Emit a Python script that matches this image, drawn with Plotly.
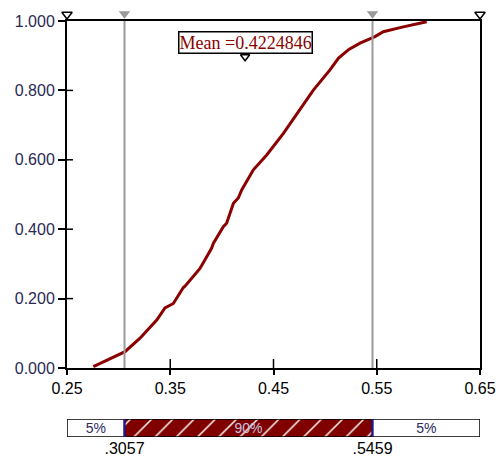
import plotly.graph_objects as go

# Cumulative curve values
cdf_x = [0.2755, 0.2852, 0.2981, 0.3062, 0.3207, 0.3369, 0.3449, 0.3530, 0.3627, 0.3643,
         0.3788, 0.3900, 0.3917, 0.4014, 0.4046, 0.4112, 0.4159, 0.4192, 0.4305, 0.4434,
         0.4596, 0.4757, 0.4886, 0.5047, 0.5130, 0.5230, 0.5338, 0.5483, 0.5563, 0.5757,
         0.5984]
cdf_y = [0.004, 0.018, 0.037, 0.047, 0.086, 0.138, 0.173, 0.186, 0.232, 0.236,
         0.287, 0.345, 0.359, 0.407, 0.417, 0.475, 0.490, 0.513, 0.571, 0.614,
         0.676, 0.744, 0.801, 0.859, 0.893, 0.918, 0.936, 0.955, 0.969, 0.983,
         0.998]

mean_value = 0.4224846
pct_edges = [0.25, 0.3057, 0.5459, 0.65]
pct_labels = ["5%", "90%", "5%"]
edge_labels = [".3057", ".5459"]

x_ticks = [0.25, 0.35, 0.45, 0.55, 0.65]
x_ticktext = ["0.25", "0.35", "0.45", "0.55", "0.65"]
y_ticks = [0.0, 0.2, 0.4, 0.6, 0.8, 1.0]
y_ticktext = ["0.000", "0.200", "0.400", "0.600", "0.800", "1.000"]

DARKRED = "#8b0000"
GREY = "#9a9a9a"

fig = go.Figure()

# Curve
fig.add_trace(go.Scatter(x=cdf_x, y=cdf_y, mode="lines",
                         line=dict(color=DARKRED, width=3), hoverinfo="skip",
                         xaxis="x", yaxis="y"))

# Grey percentile lines
for v in pct_edges[1:3]:
    fig.add_shape(type="line", xref="x", yref="y", x0=v, x1=v, y0=0, y1=1,
                  line=dict(color=GREY, width=2), layer="above")

# Triangle markers in a thin strip above the frame
fig.add_trace(go.Scatter(x=pct_edges[1:3], y=[0.55, 0.55], mode="markers",
                         xaxis="x", yaxis="y3", cliponaxis=False,
                         marker=dict(symbol="triangle-down", size=10, color=GREY,
                                     line=dict(width=0)),
                         hoverinfo="skip"))
fig.add_trace(go.Scatter(x=[pct_edges[0], pct_edges[-1]], y=[0.5, 0.5], mode="markers",
                         xaxis="x", yaxis="y3", cliponaxis=False,
                         marker=dict(symbol="triangle-down", size=9, color="white",
                                     line=dict(color="black", width=1.5)),
                         hoverinfo="skip"))

# Mean marker
fig.add_trace(go.Scatter(x=[mean_value], y=[0.897], mode="markers",
                         marker=dict(symbol="triangle-down", size=8, color="white",
                                     line=dict(color="black", width=1.5)),
                         cliponaxis=False, hoverinfo="skip"))

# Inner tick marks (ticks cross the axis lines)
for t in x_ticks[1:-1]:
    fig.add_shape(type="line", xref="x", yref="y", x0=t, x1=t, ysizemode="pixel",
                  yanchor=0, y0=0, y1=9, line=dict(color="black", width=1.5))
for t in y_ticks[1:-1]:
    fig.add_shape(type="line", xref="x", yref="y", y0=t, y1=t, xsizemode="pixel",
                  xanchor=0.25, x0=0, x1=6, line=dict(color="black", width=1.5))

# Mean label
fig.add_annotation(x=mean_value, y=0.938, xref="x", yref="y",
                   text="Mean =" + str(mean_value), showarrow=False,
                   font=dict(family="Liberation Serif", size=18, color=DARKRED),
                   bgcolor="white", bordercolor="black", borderwidth=1.5, borderpad=0)

# Bottom percentile bar
widths = [pct_edges[i + 1] - pct_edges[i] for i in range(3)]
bar_colors = ["white", "#800000", "white"]
fig.add_trace(go.Bar(x=widths, base=pct_edges[:3], y=[0, 0, 0], orientation="h",
                     width=1, xaxis="x2", yaxis="y2",
                     marker=dict(color=bar_colors,
                                 line=dict(color="black", width=1.5),
                                 pattern=dict(shape=["", "/", ""],
                                              fgcolor=["#2a9a9a"] * 3,
                                              bgcolor=bar_colors,
                                              fgopacity=1, size=15, solidity=0.1)),
                     text=pct_labels, textposition="inside", insidetextanchor="middle",
                     textangle=0, constraintext="none",
                     textfont=dict(family="Liberation Sans", size=14,
                                   color=["#2a2a60", "#c8c0e0", "#2a2a60"]),
                     hoverinfo="skip"))
for v in pct_edges[1:3]:
    fig.add_shape(type="line", xref="x2", yref="y2", x0=v, x1=v, y0=-0.5, y1=0.5,
                  line=dict(color="#1a1a9a", width=2))

# The page body has an 8px margin, so the figure is sized and offset to match.
# Plot area spans figure pixels 0..429; main frame top at 13, x-axis at 360.
fig.update_layout(
    width=496, height=451,
    margin=dict(l=59, r=24, t=0, b=22),
    paper_bgcolor="white", plot_bgcolor="white",
    showlegend=False,
    uniformtext=dict(minsize=14, mode="show"),
    font=dict(family="Liberation Sans", size=16, color="black"),
    xaxis=dict(domain=[0, 1], range=[0.25, 0.65], tickvals=x_ticks, ticktext=x_ticktext,
               ticks="outside", ticklen=5, tickwidth=1.5, tickcolor="black",
               showline=True, linecolor="black", linewidth=2, mirror=True,
               showgrid=False, zeroline=False, anchor="y", automargin=False,
               tickfont=dict(family="Liberation Sans", size=16, color="black")),
    yaxis=dict(domain=[69 / 429, 416 / 429], range=[0, 1], tickvals=y_ticks,
               ticktext=y_ticktext,
               ticks="outside", ticklen=7, tickwidth=1.5, tickcolor="black",
               showline=True, linecolor="black", linewidth=2, mirror=True,
               showgrid=False, zeroline=False, anchor="x", automargin=False,
               tickfont=dict(family="Liberation Sans", size=16, color="#2a2a55")),
    yaxis3=dict(domain=[416 / 429, 1], range=[0, 1], anchor="free", position=0,
                showticklabels=False, ticks="", showline=False, showgrid=False,
                zeroline=False, automargin=False),
    xaxis2=dict(domain=[0, 1], range=[0.25, 0.65], anchor="y2", automargin=False,
                tickvals=pct_edges[1:3], ticktext=edge_labels, ticks="",
                showline=False, showgrid=False, zeroline=False,
                tickfont=dict(family="Liberation Sans", size=16, color="black")),
    yaxis2=dict(domain=[0, 18 / 429], range=[-0.5, 0.5], anchor="x2", automargin=False,
                showticklabels=False, ticks="", showline=False, showgrid=False,
                zeroline=False),
)

fig.write_html("out.html")
